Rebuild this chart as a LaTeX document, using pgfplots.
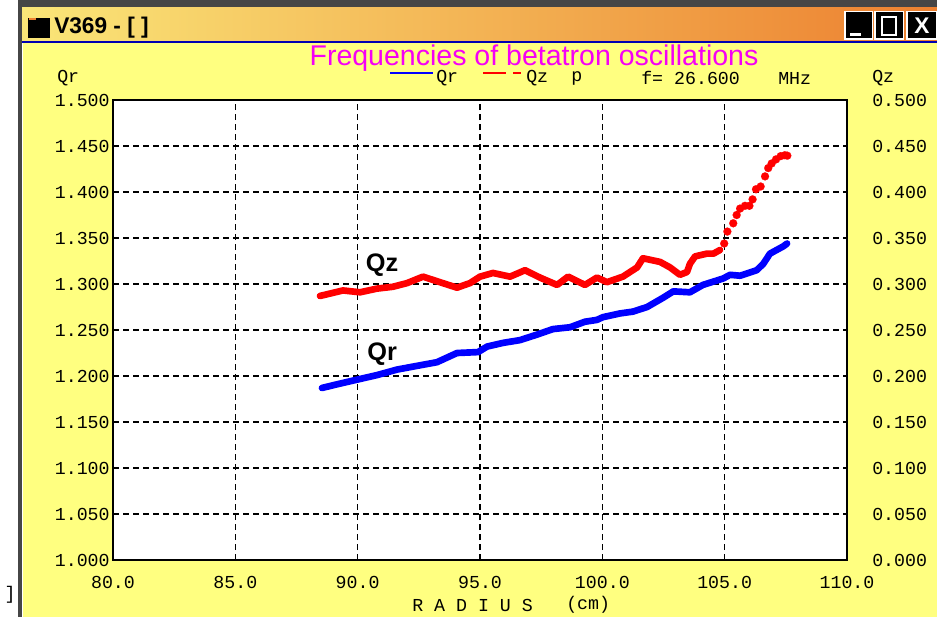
\documentclass[border=0pt]{standalone}
\usepackage{fontspec}
\setmainfont{Liberation Sans}
\newfontfamily\monofont{Liberation Mono}
\usepackage{pgfplots}
\pgfplotsset{compat=1.18}
\definecolor{clientyellow}{RGB}{255,255,128}
\definecolor{titleL}{RGB}{250,230,120}
\definecolor{titleR}{RGB}{236,128,48}
\definecolor{titlemag}{RGB}{245,0,245}
\definecolor{frame}{RGB}{70,70,70}
\definecolor{qblue}{RGB}{0,0,255}
\definecolor{qred}{RGB}{255,0,0}
\newcommand{\tfont}{\fontsize{13.7}{16}\monofont}
\begin{document}
\begin{tikzpicture}
\begin{scope}[x=0.75pt,y=-0.75pt]
 \fill[white] (0,0) rectangle (937,617);
 \fill[frame] (18,0) rectangle (937,8);
 \shade[left color=titleL,right color=titleR] (22,8) rectangle (937,41);
 \fill[qblue!70!black] (22,41) rectangle (937,43);
 \fill[clientyellow] (23,43) rectangle (937,617);
 \fill[frame] (18,0) rectangle (22,617);
 % icon
 \fill[black] (28,18) rectangle (50,38);
 \fill[titleR] (29,18) rectangle (36,20);
 \node[anchor=west,font=\bfseries\fontsize{17}{19}\selectfont,inner sep=0pt] at (54,28) {V369 - [ ]};
 % buttons
 \foreach \bx/\bw in {844/29,874/30,906/31}{
   \fill[white] (\bx,11) rectangle ++(\bw,29);
   \fill[black] (\bx+1.5,12.5) rectangle ++(\bw-3,26);
 }
 \fill[white] (850,33) rectangle (861,36);
 \draw[white,line width=1.3pt] (882,17) rectangle (896,35);
 \node[text=white,font=\bfseries\fontsize{17}{19}\selectfont,inner sep=0pt] at (922,26) {X};
 % title
 \node[text=titlemag,font=\fontsize{21.4}{24}\selectfont,inner sep=0pt] at (534,58) {Frequencies of betatron oscillations};
 % header line
 \node[anchor=west,font=\tfont,inner sep=0pt] at (57,78) {Qr};
 \draw[qblue,line width=1.5pt] (390,73) -- (433,73);
 \node[anchor=west,font=\tfont,inner sep=0pt] at (436,78) {Qr};
 \draw[qred,line width=1.5pt] (483,73) -- (506,73);
 \draw[qred,line width=1.5pt] (513,73) -- (521,73);
 \node[anchor=west,font=\tfont,inner sep=0pt] at (526,78) {Qz};
 \node[anchor=west,font=\tfont,inner sep=0pt] at (571,78) {p};
 \node[anchor=west,font=\tfont,inner sep=0pt] at (641,78) {f= 26.600};
 \node[anchor=west,font=\tfont,inner sep=0pt] at (778,78) {MHz};
 \node[anchor=west,font=\tfont,inner sep=0pt] at (872,78) {Qz};
 % x label
 \node[anchor=west,font=\tfont,inner sep=0pt] at (412,605) {R A D I U S};
 \node[anchor=west,font=\tfont,inner sep=0pt] at (566,605) {(cm)};
 \node[font=\tfont,inner sep=0pt] at (10,595) {]};
\end{scope}
\begin{axis}[
  at={(84.75pt,-420pt)}, anchor=south west,
  scale only axis, width=550.5pt, height=345pt,
  xmin=80, xmax=110, ymin=1, ymax=1.5,
  axis background/.style={fill=white},
  xtick={80,85,90,95,100,105,110},
  xticklabels={80.0,85.0,90.0,95.0,100.0,105.0,110.0},
  ytick={1,1.05,1.1,1.15,1.2,1.25,1.3,1.35,1.4,1.45,1.5},
  yticklabels={1.000,1.050,1.100,1.150,1.200,1.250,1.300,1.350,1.400,1.450,1.500},
  major tick length=0pt,
  grid=major,
  grid style={black,line width=1.1pt,dash pattern=on 4.5pt off 3pt},
  axis line style={black,line width=1.4pt},
  ticklabel style={font=\tfont,inner sep=0pt},
  yticklabel style={anchor=east,xshift=-2.3pt},
  xticklabel style={anchor=center,yshift=-16.5pt},
  clip=false,
]
\addplot[qblue,line width=5pt,line cap=round,line join=round,no marks] coordinates {
(88.54,1.187) (89.16,1.191) (89.97,1.196) (90.79,1.201) (91.61,1.207)
(92.42,1.211) (93.24,1.215) (94.06,1.225) (94.92,1.226) (95.29,1.232)
(95.94,1.236) (96.63,1.239) (97.33,1.245) (97.98,1.251) (98.68,1.253)
(99.29,1.259) (99.78,1.261) (100.03,1.264) (100.72,1.268) (101.25,1.270)
(101.83,1.275) (102.48,1.285) (102.90,1.292) (103.58,1.291) (104.11,1.299)
(104.94,1.306) (105.22,1.310) (105.63,1.309) (106.31,1.315) (106.58,1.322)
(106.85,1.333) (107.40,1.341) (107.55,1.344)
};
\node[font=\bfseries\fontsize{19}{22}\selectfont,inner sep=0pt] at (axis cs:91.0,1.321) {Qz};
\node[font=\bfseries\fontsize{19}{22}\selectfont,inner sep=0pt] at (axis cs:91.0,1.224) {Qr};
\end{axis}
\begin{axis}[
  at={(84.75pt,-420pt)}, anchor=south west,
  scale only axis, width=550.5pt, height=345pt,
  xmin=80, xmax=110, ymin=0, ymax=0.5,
  axis x line=none, axis y line*=right,
  ytick={0,0.05,0.1,0.15,0.2,0.25,0.3,0.35,0.4,0.45,0.5},
  yticklabels={0.000,0.050,0.100,0.150,0.200,0.250,0.300,0.350,0.400,0.450,0.500},
  major tick length=0pt,
  axis line style={black,line width=1.4pt},
  ticklabel style={font=\tfont,inner sep=0pt},
  yticklabel style={anchor=west,xshift=18.75pt},
  clip=false,
]
\addplot[qred,line width=5pt,line cap=round,line join=round,no marks] coordinates {
(88.46,0.287) (89.40,0.293) (90.10,0.291) (90.79,0.295) (91.44,0.297)
(92.02,0.301) (92.67,0.308) (93.36,0.302) (94.06,0.296) (94.59,0.301)
(95.00,0.308) (95.53,0.312) (96.23,0.308) (96.84,0.315) (97.45,0.307)
(98.15,0.299) (98.60,0.308) (99.29,0.299) (99.78,0.307) (100.19,0.302)
(100.84,0.308) (101.42,0.318) (101.66,0.328) (102.36,0.324) (102.77,0.318)
(103.17,0.310) (103.46,0.313) (103.58,0.322) (103.79,0.330) (104.27,0.333)
(104.54,0.333) (104.81,0.337)
};
\addplot[qred,only marks,mark=*,mark size=3pt,mark options={draw=qred,fill=qred,line width=0.1pt}] coordinates {
(104.98,0.344) (105.11,0.357) (105.35,0.366) (105.49,0.375) (105.63,0.382)
(105.83,0.385) (106.01,0.385) (106.14,0.392) (106.28,0.403) (106.47,0.406)
(106.65,0.417) (106.78,0.426) (106.92,0.431) (107.10,0.4355) (107.29,0.439)
(107.46,0.440) (107.56,0.4395)
};
\end{axis}
\pgfresetboundingbox
\useasboundingbox (0,0) rectangle (702.75pt,-462.75pt);
\end{tikzpicture}
\end{document}
